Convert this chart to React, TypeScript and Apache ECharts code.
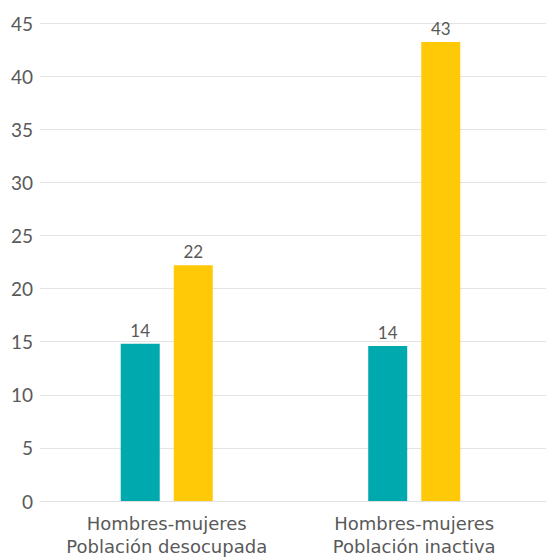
import React, { useEffect, useRef } from "react";
import * as echarts from "echarts";

const categories = ["Hombres-mujeres\nPoblación desocupada", "Hombres-mujeres\nPoblación inactiva"];
const seriesA = [14.8, 14.6];
const seriesB = [22.2, 43.2];
const labelsA = ["14", "14"];
const labelsB = ["22", "43"];
const yTicks = { min: 0, max: 45, interval: 5 };

const FONT = "Lato, 'Open Sans', sans-serif";
const CAT_FONT = "'DejaVu Sans', sans-serif";
const TEXT = "#595959";

export default function App() {
  const ref = useRef<HTMLDivElement>(null);
  useEffect(() => {
    document.body.style.margin = "0";
    const chart = echarts.init(ref.current!, null, { renderer: "svg" });
    const barLabel = (labels: string[]) => ({
      show: true,
      position: "top",
      color: TEXT,
      fontSize: 17,
      fontFamily: FONT,
      distance: 5,
      formatter: (p: any) => labels[p.dataIndex],
    });
    chart.setOption({
      animation: false,
      grid: [
        { left: 40, right: 0, top: 23, bottom: 57, outerBoundsMode: "none", containLabel: false },
        { left: 43, right: 8, top: 23, bottom: 57, outerBoundsMode: "none", containLabel: false },
      ],
      xAxis: [
        {
          gridIndex: 0,
          type: "category",
          data: categories,
          axisLine: { show: true, lineStyle: { color: "#e0e0e0", width: 1 } },
          axisTick: { show: false },
          axisLabel: { show: false },
        },
        {
          gridIndex: 1,
          type: "category",
          data: categories,
          axisLine: { show: false },
          axisTick: { show: false },
          axisLabel: {
            interval: 0,
            hideOverlap: false,
            color: TEXT,
            fontSize: 18,
            fontFamily: CAT_FONT,
            lineHeight: 23,
            margin: 11,
          },
        },
      ],
      yAxis: [
        {
          gridIndex: 0,
          type: "value",
          min: yTicks.min,
          max: yTicks.max,
          interval: yTicks.interval,
          axisLine: { show: false },
          axisTick: { show: false },
          splitLine: { lineStyle: { color: "#e3e3e3", width: 1 } },
          axisLabel: { color: TEXT, fontSize: 19, fontFamily: FONT, margin: 7 },
        },
        {
          gridIndex: 1,
          type: "value",
          min: yTicks.min,
          max: yTicks.max,
          interval: yTicks.interval,
          show: false,
          splitLine: { show: false },
        },
      ],
      series: [
        {
          type: "bar",
          xAxisIndex: 1,
          yAxisIndex: 1,
          data: seriesA,
          barWidth: 39,
          barGap: "36%",
          itemStyle: { color: "#00a9ad" },
          label: barLabel(labelsA),
        },
        {
          type: "bar",
          xAxisIndex: 1,
          yAxisIndex: 1,
          data: seriesB,
          barWidth: 39,
          barGap: "36%",
          itemStyle: { color: "#ffc907" },
          label: barLabel(labelsB),
        },
      ],
    });
    return () => chart.dispose();
  }, []);
  return <div ref={ref} style={{ width: 546, height: 558 }} />;
}
